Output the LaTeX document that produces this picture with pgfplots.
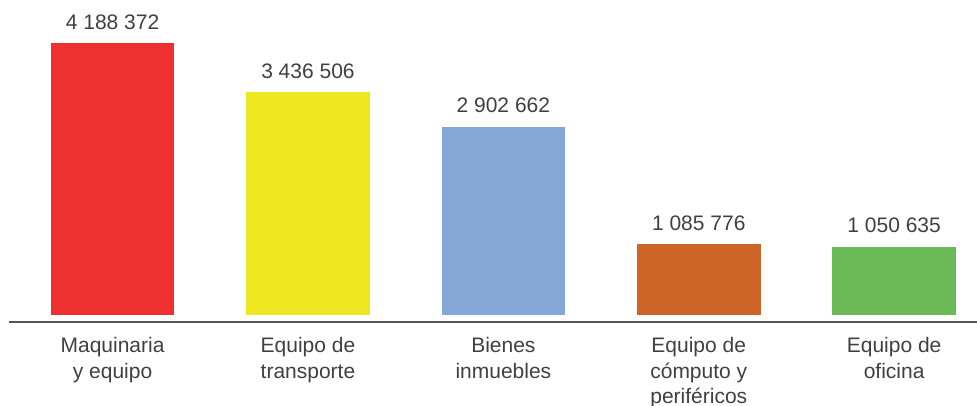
\documentclass[border=0pt]{standalone}
\usepackage{pgfplots}
\pgfplotsset{compat=1.18}
\usepackage{fontspec}
\setmainfont{Liberation Sans}
\definecolor{cred}{HTML}{EE3030}
\definecolor{cyellow}{HTML}{EDE821}
\definecolor{cblue}{HTML}{86A8D8}
\definecolor{corange}{HTML}{CD6529}
\definecolor{cgreen}{HTML}{6CBA57}
\definecolor{tgray}{HTML}{404040}
\definecolor{lgray}{HTML}{555555}
\begin{document}
\begin{tikzpicture}
\useasboundingbox (0,0) rectangle (977pt,406pt);
\begin{axis}[
  at={(9pt,84pt)}, anchor=south west,
  scale only axis, width=968pt, height=322pt,
  xmin=-0.530, xmax=4.424, ymin=-112657, ymax=4856610,
  axis x line=bottom, axis y line=none,
  axis line style={-, draw=lgray, line width=1.3pt},
  xtick={0,1,2,3,4},
  xticklabels={{Maquinaria\\y equipo},{Equipo de\\transporte},{Bienes\\inmuebles},{Equipo de\\cómputo y\\periféricos},{Equipo de\\oficina}},
  major tick length=0pt,
  xticklabel style={font=\fontsize{21}{25.5}\selectfont, text=tgray, align=center, anchor=north, yshift=-12pt},
  ybar, bar width=123.6pt,
  point meta=explicit symbolic,
  nodes near coords,
  every node near coord/.append style={font=\fontsize{21}{25}\selectfont, text=tgray, anchor=base, yshift=14pt},
  clip=false,
]
\addplot[fill=cred, draw=none, bar shift=0pt] coordinates {(0,4188372) [4 188 372]};
\addplot[fill=cyellow, draw=none, bar shift=0pt] coordinates {(1,3436506) [3 436 506]};
\addplot[fill=cblue, draw=none, bar shift=0pt] coordinates {(2,2902662) [2 902 662]};
\addplot[fill=corange, draw=none, bar shift=0pt] coordinates {(3,1085776) [1 085 776]};
\addplot[fill=cgreen, draw=none, bar shift=0pt] coordinates {(4,1050635) [1 050 635]};
\end{axis}
\end{tikzpicture}
\end{document}
